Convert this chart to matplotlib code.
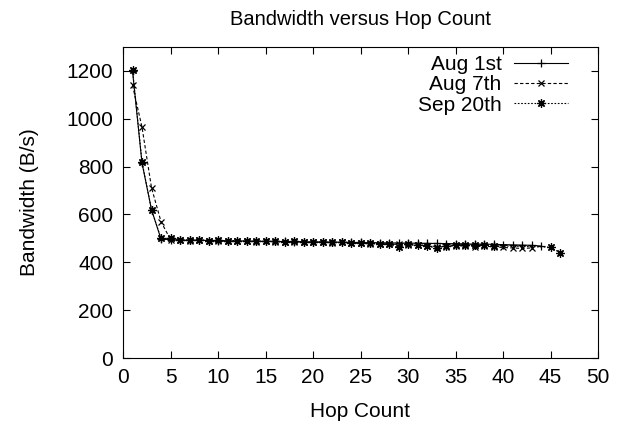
import numpy as np
import matplotlib
matplotlib.use('Agg')
from matplotlib import pyplot as plt

plt.rcParams['font.family'] = ['Liberation Sans', 'DejaVu Sans']

# ---------------------- data ----------------------
hops_aug1 = list(range(1, 45))
bw_aug1 = [1200, 815, 620, 497, 495, 493, 492, 492, 491, 490, 490, 489, 489, 488,
           488, 487, 487, 486, 486, 485, 485, 484, 484, 483, 483, 482, 482, 481,
           481, 480, 480, 479, 479, 478, 478, 477, 476, 476, 475, 474, 473, 472,
           471, 468]

hops_aug7 = list(range(1, 44))
bw_aug7 = [1140, 965, 712, 570, 495, 492, 490, 493, 490, 488, 489, 487, 488, 486,
           487, 485, 486, 484, 485, 483, 484, 482, 483, 481, 479, 478, 477, 476,
           475, 473, 472, 470, 466, 464, 470, 468, 466, 467, 465, 462, 460, 458,
           460]

hops_sep20 = list(range(1, 40)) + [45, 46]
bw_sep20 = [1205, 820, 620, 500, 500, 495, 493, 495, 491, 492, 490, 491, 488, 489,
            487, 488, 486, 487, 485, 484, 486, 483, 484, 482, 480, 479, 478, 476,
            462, 475, 472, 470, 458, 470, 472, 474, 473, 471, 470, 463, 440]

x_ticks = list(range(0, 51, 5))
y_ticks = list(range(0, 1201, 200))

# ---------------------- draw ----------------------
fig = plt.figure(figsize=(6.18, 4.26), dpi=100)
ax = fig.add_axes([123 / 618, 1 - 358 / 426, 475 / 618, 311 / 426])

star = (8, 2, 0)
ax.plot(hops_aug1, bw_aug1, color='black', linewidth=0.8, linestyle='-',
        marker='+', markersize=6, markeredgewidth=0.9, label='Aug 1st')
ax.plot(hops_aug7, bw_aug7, color='black', linewidth=0.8, linestyle=(0, (3, 2)),
        marker='x', markersize=5, markeredgewidth=0.9, label='Aug 7th')
ax.plot(hops_sep20, bw_sep20, color='black', linewidth=0.8, linestyle=(0, (1.5, 1.5)),
        marker=star, markersize=6, markeredgewidth=0.9, label='Sep 20th')

ax.set_xlim(0, 50)
ax.set_ylim(0, 1300)
ax.set_xticks(x_ticks)
ax.set_yticks(y_ticks)
ax.tick_params(direction='in', top=True, right=True, labelsize=15, length=5, pad=7)

ax.set_title('Bandwidth versus Hop Count', fontsize=14.5, pad=16)
ax.set_xlabel('Hop Count', fontsize=15, labelpad=11)
ax.set_ylabel('Bandwidth (B/s)', fontsize=15, labelpad=20)

ax.legend(loc='upper right', bbox_to_anchor=(0.937, 0.974), frameon=False,
          markerfirst=False, fontsize=15, handlelength=2.6, handletextpad=0.6,
          labelspacing=0.06, borderpad=0, borderaxespad=0)

plt.savefig('out.png', dpi=100)
